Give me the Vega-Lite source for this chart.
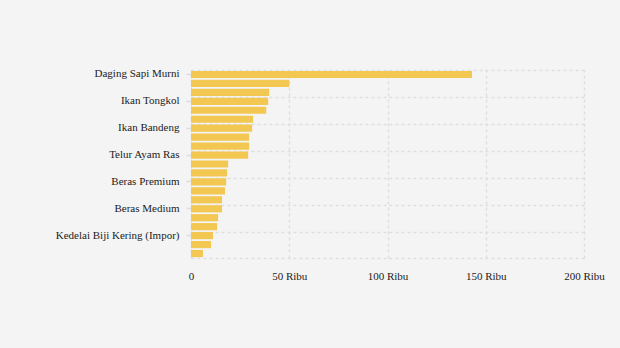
{
  "$schema": "https://vega.github.io/schema/vega-lite/v6.json",
  "autosize": "none",
  "width": 393,
  "height": 188,
  "padding": {"left": 191, "top": 70, "right": 36, "bottom": 90},
  "background": "#f4f4f4",
  "config": {
    "view": {"stroke": null},
    "font": "Liberation Serif, Times New Roman, serif",
    "axis": {"labelFont": "Liberation Serif, Times New Roman, serif", "labelFontSize": 11, "labelColor": "#222222"}
  },
  "data": {
    "values": [
      {"komoditas": "Daging Sapi Murni", "harga": 143000},
      {"komoditas": "Cabai Rawit Merah", "harga": 50000},
      {"komoditas": "Bawang Merah", "harga": 39800},
      {"komoditas": "Ikan Tongkol", "harga": 39300},
      {"komoditas": "Daging Ayam Ras", "harga": 38300},
      {"komoditas": "Bawang Putih Bonggol", "harga": 31600},
      {"komoditas": "Ikan Bandeng", "harga": 31100},
      {"komoditas": "Cabai Merah Keriting", "harga": 29600},
      {"komoditas": "Cabai Merah Besar", "harga": 29600},
      {"komoditas": "Telur Ayam Ras", "harga": 29100},
      {"komoditas": "Gula Konsumsi", "harga": 18900},
      {"komoditas": "Minyak Goreng Kemasan", "harga": 18400},
      {"komoditas": "Beras Premium", "harga": 17900},
      {"komoditas": "Minyak Goreng Curah", "harga": 17300},
      {"komoditas": "Minyakita", "harga": 15800},
      {"komoditas": "Beras Medium", "harga": 15800},
      {"komoditas": "Tepung Terigu Kemasan", "harga": 13800},
      {"komoditas": "Beras SPHP", "harga": 13300},
      {"komoditas": "Kedelai Biji Kering (Impor)", "harga": 11200},
      {"komoditas": "Tepung Terigu Curah", "harga": 10200},
      {"komoditas": "Jagung Tk Peternak", "harga": 6100}
    ]
  },
  "encoding": {
    "x": {
      "field": "harga", "type": "quantitative",
      "scale": {"domain": [0, 200000], "nice": false},
      "axis": {
        "title": null, "values": [0, 50000, 100000, 150000, 200000],
        "labelExpr": "datum.value == 0 ? '0' : (datum.value / 1000) + ' Ribu'",
        "labelFlush": false,
        "ticks": false, "labelPadding": 12,
        "domain": true, "domainColor": "#dedede", "domainDash": [3, 3], "domainWidth": 1.5,
        "grid": true, "gridColor": "#dedede", "gridDash": [3, 3], "gridWidth": 1.5
      }
    }
  },
  "layer": [
    {
      "mark": {"type": "bar", "opacity": 0},
      "encoding": {
        "y": {
          "field": "komoditas", "type": "nominal", "sort": null,
          "scale": {"paddingInner": 0.2, "paddingOuter": 0.1},
          "axis": {
            "orient": "left", "title": null, "labels": false, "ticks": false, "domain": false,
            "values": ["Daging Sapi Murni", "Ikan Tongkol", "Ikan Bandeng", "Telur Ayam Ras", "Beras Premium", "Beras Medium", "Kedelai Biji Kering (Impor)"],
            "bandPosition": 0,
            "grid": true, "gridColor": "#dedede", "gridDash": [3, 3], "gridWidth": 1.5
          }
        }
      }
    },
    {
      "mark": {"type": "bar", "color": "#f2c752"},
      "encoding": {
        "y": {
          "field": "komoditas", "type": "nominal", "sort": null,
          "axis": {
            "orient": "left", "title": null, "grid": false, "domain": false,
            "values": ["Daging Sapi Murni", "Ikan Tongkol", "Ikan Bandeng", "Telur Ayam Ras", "Beras Premium", "Beras Medium", "Kedelai Biji Kering (Impor)"],
            "ticks": true, "tickSize": 5, "tickColor": "#dedede", "tickWidth": 1.5, "labelPadding": 7
          }
        }
      }
    }
  ],
  "resolve": {"axis": {"y": "independent"}}
}
